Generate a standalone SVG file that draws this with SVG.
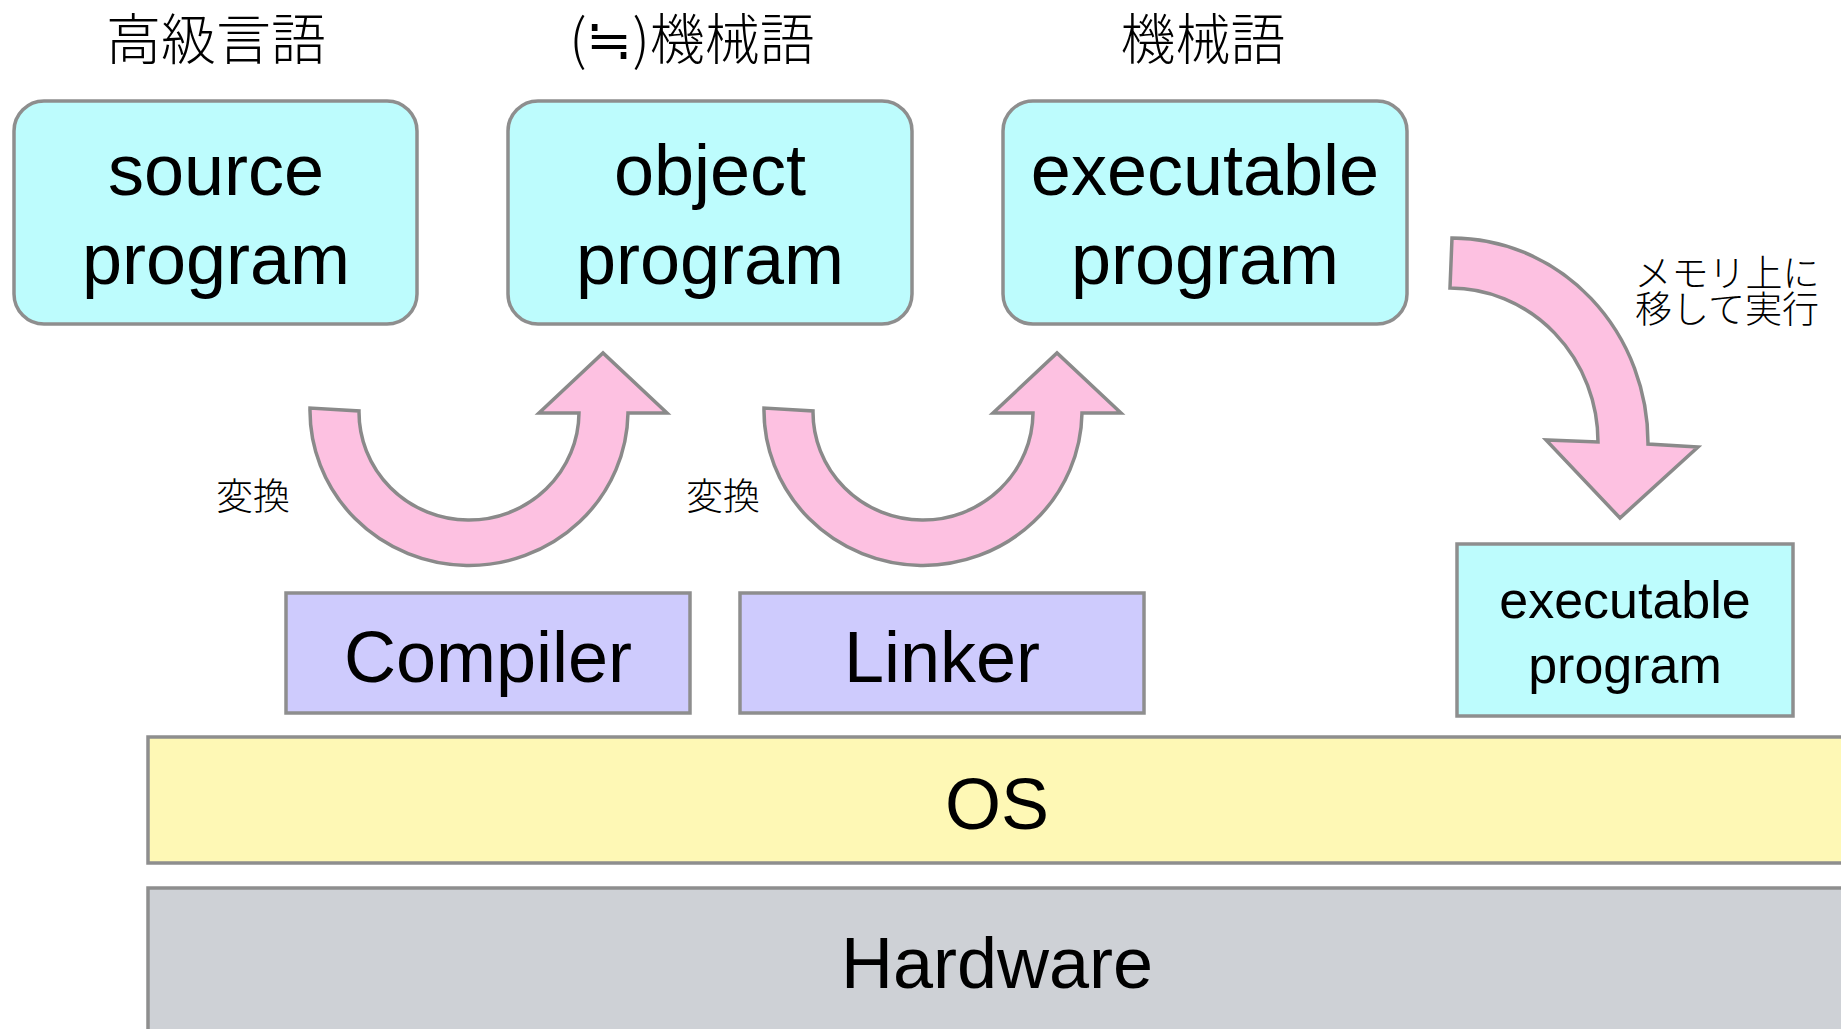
<svg xmlns="http://www.w3.org/2000/svg" width="1841" height="1029" viewBox="0 0 1841 1029">
<style>
.en{font-family:"Liberation Sans",Arial,sans-serif;fill:#000;text-anchor:middle}
.jp{font-family:"Noto Sans CJK JP",sans-serif;fill:#000;text-anchor:middle;font-weight:300}
.prog{fill:#bdfcfd;stroke:#8e8e8e;stroke-width:3.5}
.tool{fill:#cecbfd;stroke:#8e8e8e;stroke-width:3.5}
.arrow{fill:#fdc1e1;stroke:#8a8a8a;stroke-width:3.5;stroke-linejoin:miter}
</style>
<rect width="1841" height="1029" fill="#fff"/>
<g id="titles">
<text class="jp" x="216" y="59" font-size="55">高級言語</text>
<text class="jp" x="692" y="59" font-size="55">(≒)機械語</text>
<text class="jp" x="1203" y="59" font-size="55">機械語</text>
</g>
<g id="hardware">
<rect x="148" y="888" width="1720" height="160" fill="#ced1d6" stroke="#8e8e8e" stroke-width="3.5"/>
<text class="en" x="997" y="988" font-size="72">Hardware</text>
</g>
<g id="os">
<rect x="148" y="737" width="1720" height="126" fill="#fef8b5" stroke="#8e8e8e" stroke-width="3.5"/>
<text class="en" x="997" y="829" font-size="72">OS</text>
</g>
<g id="source-program">
<rect class="prog" x="14" y="101" width="403" height="223" rx="30"/>
<text class="en" x="216" y="195" font-size="72">source</text>
<text class="en" x="216" y="284" font-size="72">program</text>
</g>
<g id="object-program">
<rect class="prog" x="508" y="101" width="404" height="223" rx="30"/>
<text class="en" x="710" y="195" font-size="72">object</text>
<text class="en" x="710" y="284" font-size="72">program</text>
</g>
<g id="executable-program">
<rect class="prog" x="1003" y="101" width="404" height="223" rx="30"/>
<text class="en" x="1205" y="195" font-size="72">executable</text>
<text class="en" x="1205" y="284" font-size="72">program</text>
</g>
<g id="compiler">
<rect class="tool" x="286" y="593" width="404" height="120"/>
<text class="en" x="488" y="682" font-size="72">Compiler</text>
</g>
<g id="linker">
<rect class="tool" x="740" y="593" width="404" height="120"/>
<text class="en" x="942" y="682" font-size="72">Linker</text>
</g>
<g id="loaded-program">
<rect class="prog" x="1457" y="544" width="336" height="172"/>
<text class="en" x="1625" y="618" font-size="52">executable</text>
<text class="en" x="1625" y="683" font-size="52">program</text>
</g>
<g id="connectors">
<path class="arrow" d="M310,408 A159,155 0 0 0 628,413 L667,413 L603,353 L539,413 L579,413 A110,108 0 0 1 359,411 Z"/>
<path class="arrow" transform="translate(454,0)" d="M310,408 A159,155 0 0 0 628,413 L667,413 L603,353 L539,413 L579,413 A110,108 0 0 1 359,411 Z"/>
<path class="arrow" d="M1452,238 A196,205 0 0 1 1648,444 L1698,447 L1620,518 L1546,440 L1598,442 A148,154 0 0 0 1450,288 Z"/>
<text class="jp" x="253" y="510" font-size="37">変換</text>
<text class="jp" x="723" y="510" font-size="37">変換</text>
<text class="jp" x="1727" y="287" font-size="37">メモリ上に</text>
<text class="jp" x="1727" y="323" font-size="37">移して実行</text>
</g>
</svg>
